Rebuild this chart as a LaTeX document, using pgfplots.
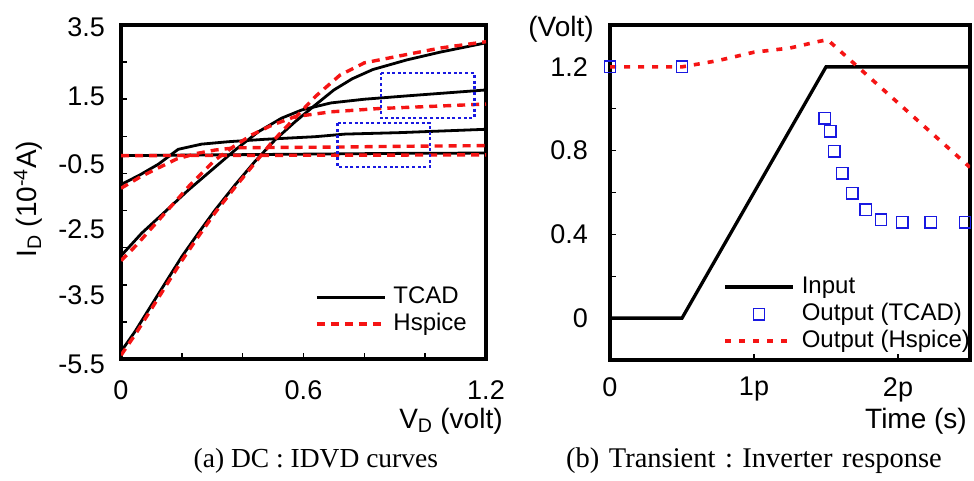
\documentclass[border=0pt]{standalone}
\usepackage{fontspec}
\setmainfont{Liberation Sans}
\newfontfamily\capfont{Liberation Serif}
\usepackage{pgfplots}
\pgfplotsset{compat=1.18}
\definecolor{myred}{RGB}{245,20,20}
\definecolor{myblue}{RGB}{25,25,225}
\newcommand{\tickfont}{\fontsize{27}{31}\selectfont}
\newcommand{\labfont}{\fontsize{28}{32}\selectfont}
\newcommand{\legfont}{\fontsize{24}{28}\selectfont}
\newcommand{\capsp}{\hspace{9.5pt}}
\pgfplotsset{
  every axis/.append style={
    scale only axis, anchor=south west,
    axis line style={line width=3.3pt, line join=miter},
    every outer x axis line/.append style={line width=3.3pt},
    every outer y axis line/.append style={line width=3.3pt},
    tick align=inside, tick pos=left,
    major tick length=6pt, minor tick length=6pt,
    every tick/.style={black, line width=1.5pt},
    legend cell align=left,
    legend image code/.code={\draw[mark repeat=2,mark phase=2,#1] plot coordinates {(0pt,0pt) (34pt,0pt) (68pt,0pt)};},
    legend style={draw=none, fill=none, font=\legfont, row sep=5pt, column sep=7pt,
      nodes={inner sep=0pt, text height=17pt, text depth=5pt}},
    title style={anchor=base, inner sep=0pt},
  },
  tcad/.style={black, line width=2.8pt},
  hsp/.style={myred, line width=3.4pt, dash pattern=on 8pt off 6pt},
  box/.style={myblue, line width=2.8pt, dash pattern=on 3pt off 2.6pt},
}
\begin{document}
\begin{tikzpicture}
\useasboundingbox (0,0) rectangle (974pt,480pt);
% ---------------- (a) DC : IDVD curves ----------------
\begin{axis}[
  at={(121pt,121pt)}, width=365pt, height=334pt,
  xmin=0, xmax=1.2, ymin=-5.5, ymax=3.5,
  xtick={0,0.6,1.2}, xticklabels={0,0.6,1.2},
  minor xtick={0.2,0.4,0.8,1.0},
  ytick={3.43,1.587,-0.245,-1.997,-3.775},
  yticklabels={3.5,1.5,-0.5,-2.5,-3.5},
  every major y tick/.style={draw=none},
  minor ytick={2.5,1.5,0.5,-0.5,-1.5,-2.5,-3.5,-4.5},
  extra y ticks={-5.5}, extra y tick labels={-5.5},
  extra y tick style={yticklabel style={yshift=-5pt}},
  xticklabel style={font=\tickfont, anchor=north, inner sep=0pt, yshift=-21pt},
  yticklabel style={font=\tickfont, anchor=east, inner sep=0pt, xshift=-16pt},
  xlabel={V\textsubscript{D} (volt)},
  xlabel style={font=\labfont, at={(axis description cs:0.904,0)}, anchor=base, inner sep=0pt, yshift=-69pt},
  ylabel={I\textsubscript{D} (10\textsuperscript{-4}A)},
  every axis y label/.style={at={(axis description cs:-0.255,0.479)}, rotate=90, anchor=center, font=\labfont, inner sep=0pt},
  title={(a) DC : IDVD curves},
  title style={font=\capfont\fontsize{27.5}{32}\selectfont, at={(axis description cs:0.534,0)}, yshift=-114pt},
  legend style={at={(axis description cs:0.523,0.2246)}, anchor=north west},
]
% TCAD (black)
\addplot[tcad] coordinates {(0,-0.02) (0.3,0.0) (0.6,0.02) (0.9,0.04) (1.2,0.05)};
\addlegendentry{TCAD}
\addplot[tcad, forget plot] coordinates {(0,-0.8) (0.062,-0.54) (0.123,-0.25) (0.188,0.15) (0.265,0.29) (0.353,0.355) (0.473,0.42) (0.638,0.49) (0.736,0.56) (0.917,0.6) (1.2,0.69)};
\addplot[tcad, forget plot] coordinates {(0,-2.72) (0.068,-2.11) (0.145,-1.53) (0.221,-0.95) (0.298,-0.41) (0.375,0.13) (0.451,0.62) (0.528,0.99) (0.594,1.21) (0.69,1.40) (0.8,1.5) (0.94,1.59) (1.2,1.75)};
\addplot[tcad, forget plot] coordinates {(0,-5.3) (0.046,-4.76) (0.09,-4.18) (0.145,-3.46) (0.2,-2.74) (0.254,-2.11) (0.309,-1.49) (0.375,-0.81) (0.44,-0.18) (0.506,0.40) (0.572,0.89) (0.638,1.34) (0.70,1.75) (0.76,2.05) (0.828,2.3) (0.94,2.56) (1.05,2.77) (1.2,3.02)};
% Hspice (red dashed)
\addplot[hsp] coordinates {(0,-0.02) (0.6,-0.01) (1.2,0.0)};
\addlegendentry{Hspice}
\addplot[hsp, forget plot] coordinates {(0,-0.9) (0.062,-0.6) (0.123,-0.35) (0.183,-0.11) (0.25,0.04) (0.309,0.13) (0.375,0.19) (0.5,0.2) (0.7,0.21) (0.9,0.23) (1.2,0.25)};
\addplot[hsp, forget plot] coordinates {(0,-2.85) (0.051,-2.43) (0.09,-2.07) (0.139,-1.62) (0.183,-1.22) (0.227,-0.81) (0.276,-0.41) (0.309,-0.14) (0.369,0.22) (0.43,0.54) (0.496,0.8) (0.572,1.03) (0.69,1.16) (0.85,1.25) (1.0,1.3) (1.2,1.37)};
\addplot[hsp, forget plot] coordinates {(0,-5.4) (0.05,-4.8) (0.1,-4.15) (0.15,-3.5) (0.2,-2.85) (0.25,-2.25) (0.31,-1.55) (0.375,-0.87) (0.44,-0.22) (0.5,0.38) (0.57,0.98) (0.64,1.58) (0.72,2.15) (0.8,2.48) (0.93,2.69) (1.05,2.88) (1.2,3.05)};
% highlight boxes
\addplot[box, forget plot] coordinates {(0.855,2.207) (1.161,2.207) (1.161,0.994) (0.855,0.994) (0.855,2.207)};
\addplot[box, forget plot] coordinates {(0.713,0.859) (1.016,0.859) (1.016,-0.326) (0.713,-0.326) (0.713,0.859)};
\end{axis}
% ---------------- (b) Transient ----------------
\begin{axis}[
  at={(610pt,120pt)}, width=360pt, height=335pt,
  xmin=0, xmax=2.5, ymin=-0.2, ymax=1.4,
  xtick={0,1,2}, xticklabels={0,1p,2p},
  ytick={0,0.4,0.8,1.2}, yticklabels={0,0.4,0.8,1.2},
  minor ytick={0.2,0.6,1.0},
  xticklabel style={font=\tickfont, anchor=north, inner sep=0pt, yshift=-17pt},
  yticklabel style={font=\tickfont, anchor=east, inner sep=0pt, xshift=-22pt},
  xlabel={Time (s)},
  xlabel style={font=\labfont, at={(axis description cs:0.85,0)}, anchor=base, inner sep=0pt, yshift=-68pt},
  ylabel={(Volt)},
  every axis y label/.style={at={(axis description cs:-0.136,0.988)}, anchor=center, font=\labfont, inner sep=0pt},
  title={(b)\capsp Transient\capsp:\capsp Inverter\capsp response},
  title style={font=\capfont\fontsize{28.5}{32}\selectfont, at={(axis description cs:0.4,0)}, yshift=-113pt},
  legend style={at={(axis description cs:0.3056,0.257)}, anchor=north west},
]
\addplot[black, line width=3.3pt] coordinates {(0,0) (0.5,0) (1.5,1.2) (2.5,1.2)};
\addlegendentry{Input}
\addplot[only marks, mark=square, mark size=5.7pt, mark options={draw=myblue, fill=none, line width=1.5pt}] coordinates {(0,1.2) (0.5,1.2) (1.49,0.955) (1.53,0.893) (1.556,0.797) (1.613,0.691) (1.683,0.597) (1.776,0.518) (1.882,0.47) (2.03,0.457) (2.227,0.457) (2.465,0.457)};
\addlegendentry{Output (TCAD)}
\addplot[myred, line width=3.6pt, dash pattern=on 6pt off 8pt] coordinates {(0,1.2) (0.5,1.2) (0.75,1.23) (1.0,1.27) (1.25,1.29) (1.44,1.32) (1.51,1.33) (2.5,0.72)};
\addlegendentry{Output (Hspice)}
\end{axis}
\end{tikzpicture}
\end{document}
